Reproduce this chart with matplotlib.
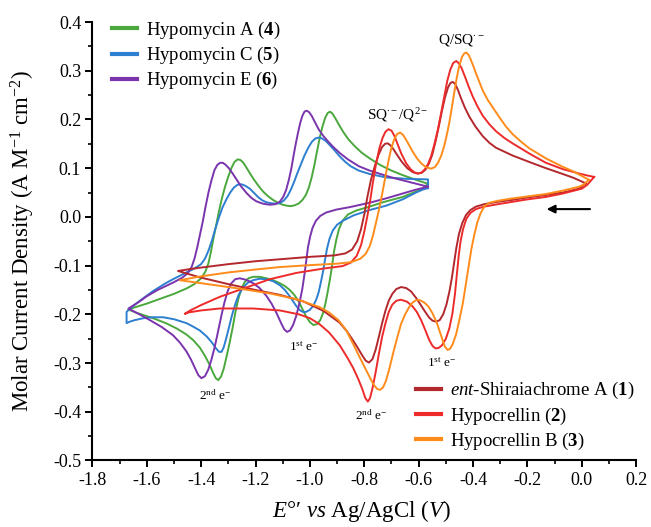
import matplotlib
matplotlib.use("Agg")
import matplotlib.pyplot as plt
from matplotlib.ticker import MultipleLocator, FormatStrFormatter
from matplotlib.lines import Line2D

plt.rcParams['font.family'] = ['Liberation Serif', 'DejaVu Serif']
plt.rcParams['mathtext.fontset'] = 'custom'
plt.rcParams['mathtext.rm'] = 'Liberation Serif'
plt.rcParams['mathtext.it'] = 'Liberation Serif:italic'
plt.rcParams['mathtext.bf'] = 'Liberation Serif:bold'
plt.rcParams['axes.unicode_minus'] = False

# ── CV loops: right vertex -> cathodic (lower) -> left vertex -> anodic (upper) ──
shir_x = [0.014, -0.01, -0.07, -0.132, -0.2, -0.255, -0.31, -0.36, -0.39, -0.41, -0.426, -0.440, -0.452,
          -0.462, -0.470, -0.478, -0.487, -0.498, -0.510, -0.523, -0.536, -0.549, -0.561, -0.576, -0.591,
          -0.610, -0.628, -0.646, -0.665, -0.682, -0.697, -0.710, -0.722, -0.734, -0.746, -0.758, -0.770,
          -0.783, -0.795, -0.808, -0.825, -0.842, -0.865, -0.891, -0.95, -1.026, -1.111, -1.2, -1.3, -1.405,
          -1.485,
          -1.44, -1.40, -1.30, -1.2, -1.111, -1.0, -0.91, -0.870, -0.845, -0.826, -0.812, -0.800, -0.789,
          -0.776, -0.762, -0.748, -0.735, -0.724, -0.714, -0.704, -0.693, -0.679, -0.662, -0.642, -0.622,
          -0.604, -0.588, -0.575, -0.562, -0.550, -0.538, -0.526, -0.514, -0.503, -0.492, -0.483, -0.475,
          -0.466, -0.456, -0.444, -0.430, -0.414, -0.392, -0.365, -0.340, -0.316, -0.255, -0.19, -0.132,
          -0.07, -0.030, 0.014]
shir_y = [0.069, 0.058, 0.050, 0.045, 0.040, 0.035, 0.031, 0.026, 0.021, 0.014, 0.004, -0.013, -0.035,
          -0.065, -0.095, -0.125, -0.153, -0.180, -0.200, -0.212, -0.215, -0.213, -0.207, -0.195, -0.182,
          -0.166, -0.153, -0.146, -0.144, -0.148, -0.158, -0.172, -0.192, -0.217, -0.245, -0.272, -0.292,
          -0.299, -0.295, -0.284, -0.268, -0.253, -0.234, -0.217, -0.193, -0.173, -0.160, -0.150, -0.138, -0.124,
          -0.111,
          -0.107, -0.104, -0.097, -0.091, -0.087, -0.082, -0.079, -0.075, -0.067, -0.050, -0.025, 0.005, 0.040,
          0.075, 0.103, 0.127, 0.143, 0.150, 0.151, 0.147, 0.139, 0.127, 0.113, 0.100, 0.092,
          0.089, 0.091, 0.097, 0.110, 0.128, 0.155, 0.186, 0.219, 0.246, 0.266, 0.275, 0.277,
          0.273, 0.261, 0.243, 0.224, 0.206, 0.186, 0.166, 0.152, 0.142, 0.126, 0.112, 0.100,
          0.088, 0.080, 0.069]

hypo_x = [0.045, 0.02, 0.0, -0.07, -0.132, -0.2, -0.255, -0.31, -0.36, -0.39, -0.41, -0.425, -0.437, -0.446,
          -0.453, -0.460, -0.467, -0.476, -0.487, -0.500, -0.515, -0.527, -0.538, -0.549, -0.561, -0.576,
          -0.591, -0.607, -0.622, -0.643, -0.665, -0.682, -0.697, -0.710, -0.722, -0.734, -0.746, -0.758,
          -0.770, -0.779, -0.787, -0.796, -0.807, -0.822, -0.840, -0.861, -0.891, -0.93, -0.965, -1.0, -1.04,
          -1.111, -1.209, -1.331, -1.40, -1.445, -1.460,
          -1.44, -1.40, -1.331, -1.27, -1.209, -1.148, -1.05, -0.95, -0.88, -0.85, -0.828, -0.812, -0.800,
          -0.789, -0.778, -0.768, -0.757, -0.745, -0.733, -0.722, -0.711, -0.700, -0.689, -0.678, -0.664,
          -0.646, -0.630, -0.615, -0.602, -0.589, -0.577, -0.566, -0.554, -0.542, -0.530, -0.518, -0.506,
          -0.495, -0.484, -0.473, -0.462, -0.452, -0.442, -0.430, -0.416, -0.402, -0.385, -0.365, -0.340,
          -0.316, -0.285, -0.255, -0.19, -0.132, -0.07, -0.010, 0.02, 0.045]
hypo_y = [0.082, 0.066, 0.058, 0.048, 0.041, 0.036, 0.031, 0.026, 0.021, 0.016, 0.008, -0.004, -0.025, -0.050,
          -0.080, -0.120, -0.160, -0.198, -0.228, -0.250, -0.264, -0.269, -0.270, -0.265, -0.253, -0.232,
          -0.212, -0.195, -0.184, -0.174, -0.170, -0.172, -0.180, -0.195, -0.218, -0.245, -0.280, -0.318,
          -0.352, -0.372, -0.379, -0.372, -0.354, -0.333, -0.311, -0.290, -0.263, -0.237, -0.220, -0.208, -0.200,
          -0.192, -0.188, -0.188, -0.192, -0.196, -0.199,
          -0.192, -0.181, -0.164, -0.152, -0.140, -0.128, -0.115, -0.106, -0.101, -0.094, -0.080, -0.058, -0.030,
          0.001, 0.035, 0.072, 0.108, 0.140, 0.162, 0.175, 0.180, 0.177, 0.166, 0.150, 0.130,
          0.110, 0.098, 0.091, 0.089, 0.091, 0.098, 0.108, 0.125, 0.150, 0.178, 0.212, 0.247,
          0.279, 0.302, 0.316, 0.320, 0.315, 0.305, 0.288, 0.267, 0.248, 0.228, 0.208, 0.190,
          0.176, 0.162, 0.151, 0.129, 0.111, 0.098, 0.089, 0.085, 0.082]

hypob_x = [0.026, 0.005, -0.010, -0.07, -0.132, -0.2, -0.255, -0.31, -0.340, -0.358, -0.372, -0.385, -0.396,
           -0.406, -0.416, -0.426, -0.438, -0.451, -0.463, -0.475, -0.485, -0.494, -0.504, -0.518, -0.533,
           -0.549, -0.564, -0.579, -0.595, -0.610, -0.623, -0.636, -0.650, -0.665, -0.680, -0.695, -0.708,
           -0.720, -0.731, -0.742, -0.753, -0.766, -0.781, -0.800, -0.818, -0.840, -0.866, -0.895, -0.93,
           -0.965, -1.05, -1.148, -1.25, -1.35, -1.478,
           -1.44, -1.40, -1.30, -1.2, -1.111, -1.0, -0.900, -0.850, -0.815, -0.795, -0.780, -0.768, -0.757,
           -0.746, -0.735, -0.724, -0.713, -0.702, -0.691, -0.680, -0.668, -0.657, -0.646, -0.634, -0.622,
           -0.606, -0.591, -0.573, -0.555, -0.541, -0.529, -0.517, -0.506, -0.496, -0.487, -0.478, -0.469,
           -0.460, -0.451, -0.441, -0.432, -0.424, -0.416, -0.408, -0.398, -0.389, -0.377, -0.365, -0.346,
           -0.328, -0.304, -0.280, -0.255, -0.225, -0.194, -0.132, -0.071, -0.030, 0.026]
hypob_y = [0.076, 0.066, 0.062, 0.054, 0.047, 0.042, 0.038, 0.033, 0.029, 0.022, 0.008, -0.012, -0.038,
           -0.065, -0.100, -0.136, -0.178, -0.213, -0.242, -0.261, -0.271, -0.273, -0.266, -0.243, -0.218,
           -0.198, -0.184, -0.176, -0.171, -0.171, -0.176, -0.186, -0.200, -0.220, -0.250, -0.282, -0.312,
           -0.336, -0.350, -0.355, -0.353, -0.344, -0.328, -0.307, -0.287, -0.262, -0.233, -0.212, -0.196,
           -0.185, -0.169, -0.157, -0.148, -0.140, -0.130,
           -0.126, -0.122, -0.114, -0.108, -0.103, -0.099, -0.096, -0.093, -0.086, -0.076, -0.060, -0.038, -0.012,
           0.015, 0.045, 0.078, 0.110, 0.138, 0.158, 0.170, 0.173, 0.168, 0.158, 0.146, 0.134,
           0.120, 0.110, 0.102, 0.099, 0.102, 0.111, 0.126, 0.146, 0.170, 0.195, 0.225, 0.256,
           0.286, 0.310, 0.328, 0.336, 0.337, 0.332, 0.322, 0.308, 0.294, 0.277, 0.260, 0.240,
           0.225, 0.205, 0.186, 0.170, 0.155, 0.141, 0.120, 0.103, 0.093, 0.076]

hma_x = [-0.566, -0.585, -0.61, -0.659, -0.732, -0.781, -0.83, -0.860, -0.880, -0.893, -0.903, -0.911,
         -0.918, -0.926, -0.934, -0.943, -0.952, -0.962, -0.974, -0.987, -1.000, -1.013, -1.026, -1.040,
         -1.056, -1.074, -1.092, -1.111, -1.135, -1.160, -1.185, -1.209, -1.226, -1.240, -1.252, -1.264,
         -1.274, -1.283, -1.295, -1.307, -1.317, -1.327, -1.337, -1.346, -1.356, -1.370, -1.386, -1.405,
         -1.429, -1.455, -1.490, -1.530, -1.576, -1.637, -1.668,
         -1.64, -1.60, -1.55, -1.50, -1.454, -1.425, -1.400, -1.384, -1.373, -1.364, -1.355, -1.345, -1.335,
         -1.324, -1.312, -1.300, -1.288, -1.277, -1.266, -1.256, -1.246, -1.233, -1.220, -1.205, -1.188,
         -1.172, -1.155, -1.136, -1.118, -1.100, -1.085, -1.070, -1.055, -1.040, -1.027, -1.015, -1.004,
         -0.994, -0.984, -0.974, -0.964, -0.954, -0.944, -0.935, -0.926, -0.917, -0.906, -0.893, -0.877,
         -0.858, -0.835, -0.81, -0.78, -0.74, -0.70, -0.66, -0.61, -0.566]
hma_y = [0.068, 0.058, 0.052, 0.041, 0.030, 0.021, 0.013, 0.005, -0.008, -0.025, -0.047, -0.070,
         -0.098, -0.127, -0.152, -0.178, -0.198, -0.212, -0.220, -0.222, -0.216, -0.205, -0.191, -0.175,
         -0.161, -0.150, -0.142, -0.136, -0.130, -0.126, -0.123, -0.123, -0.126, -0.134, -0.148, -0.170,
         -0.196, -0.224, -0.258, -0.288, -0.312, -0.328, -0.335, -0.331, -0.320, -0.302, -0.285, -0.268,
         -0.253, -0.241, -0.229, -0.218, -0.208, -0.197, -0.190,
         -0.185, -0.178, -0.168, -0.158, -0.147, -0.138, -0.126, -0.112, -0.095, -0.072, -0.045, -0.018, 0.010,
         0.037, 0.062, 0.083, 0.101, 0.113, 0.118, 0.117, 0.112, 0.101, 0.089, 0.076, 0.063,
         0.052, 0.043, 0.035, 0.029, 0.025, 0.023, 0.022, 0.024, 0.028, 0.035, 0.045, 0.060,
         0.080, 0.105, 0.134, 0.162, 0.185, 0.203, 0.213, 0.216, 0.212, 0.202, 0.189, 0.174,
         0.159, 0.145, 0.132, 0.120, 0.106, 0.095, 0.086, 0.076, 0.068]

hmc_x = [-0.566, -0.585, -0.610, -0.659, -0.72, -0.781, -0.840, -0.879, -0.900, -0.916, -0.928, -0.937,
         -0.945, -0.952, -0.960, -0.968, -0.977, -0.988, -1.001, -1.014, -1.026, -1.038, -1.050, -1.062,
         -1.074, -1.092, -1.111, -1.135, -1.160, -1.185, -1.209, -1.228, -1.246, -1.262, -1.275, -1.287,
         -1.298, -1.308, -1.317, -1.325, -1.334, -1.345, -1.360, -1.380, -1.405, -1.430, -1.454, -1.50,
         -1.539, -1.58, -1.613, -1.645, -1.662, -1.674, -1.674,
         -1.655, -1.62, -1.576, -1.53, -1.50, -1.454, -1.425, -1.40, -1.385, -1.372, -1.360, -1.348, -1.335,
         -1.321, -1.307, -1.293, -1.280, -1.266, -1.252, -1.238, -1.221, -1.205, -1.191, -1.175, -1.160,
         -1.142, -1.123, -1.108, -1.095, -1.082, -1.070, -1.058, -1.046, -1.033, -1.020, -1.006, -0.993,
         -0.980, -0.967, -0.955, -0.942, -0.928, -0.91, -0.89, -0.87, -0.85, -0.82, -0.78, -0.72, -0.64,
         -0.566, -0.566]
hmc_y = [0.059, 0.056, 0.050, 0.036, 0.023, 0.014, 0.003, -0.008, -0.016, -0.028, -0.045, -0.065,
         -0.090, -0.113, -0.135, -0.155, -0.170, -0.183, -0.191, -0.195, -0.195, -0.191, -0.183, -0.173,
         -0.163, -0.150, -0.140, -0.132, -0.128, -0.127, -0.130, -0.135, -0.145, -0.160, -0.180, -0.203,
         -0.228, -0.250, -0.268, -0.277, -0.277, -0.270, -0.258, -0.245, -0.233, -0.225, -0.218, -0.210,
         -0.206, -0.206, -0.208, -0.212, -0.215, -0.218, -0.195,
         -0.185, -0.170, -0.152, -0.136, -0.127, -0.114, -0.106, -0.097, -0.085, -0.068, -0.048, -0.025, -0.002,
         0.020, 0.036, 0.050, 0.060, 0.066, 0.067, 0.064, 0.058, 0.049, 0.041, 0.034, 0.030,
         0.028, 0.027, 0.029, 0.034, 0.043, 0.056, 0.072, 0.090, 0.108, 0.126, 0.142, 0.154,
         0.161, 0.163, 0.161, 0.156, 0.148, 0.137, 0.124, 0.113, 0.104, 0.095, 0.088, 0.081, 0.078,
         0.077, 0.059]

hme_x = [-0.566, -0.610, -0.659, -0.72, -0.781, -0.854, -0.903, -0.940, -0.962, -0.978, -0.990, -0.999,
         -1.007, -1.013, -1.020, -1.028, -1.038, -1.050, -1.062, -1.073, -1.084, -1.094, -1.105, -1.123,
         -1.141, -1.160, -1.185, -1.209, -1.235, -1.258, -1.275, -1.290, -1.302, -1.314, -1.326, -1.338,
         -1.350, -1.362, -1.374, -1.386, -1.399, -1.410, -1.422, -1.437, -1.454, -1.478, -1.503, -1.545,
         -1.588, -1.63, -1.667,
         -1.63, -1.60, -1.56, -1.53, -1.50, -1.47, -1.450, -1.435, -1.424, -1.414, -1.404, -1.394, -1.384,
         -1.373, -1.362, -1.351, -1.340, -1.330, -1.320, -1.310, -1.298, -1.284, -1.270, -1.252, -1.233,
         -1.215, -1.197, -1.172, -1.148, -1.128, -1.111, -1.098, -1.087, -1.077, -1.068, -1.060, -1.052,
         -1.044, -1.036, -1.028, -1.020, -1.012, -1.003, -0.993, -0.982, -0.968, -0.952, -0.935, -0.915,
         -0.89, -0.86, -0.82, -0.78, -0.74, -0.70, -0.63, -0.566]
hme_y = [0.062, 0.056, 0.048, 0.038, 0.029, 0.020, 0.015, 0.009, 0.002, -0.008, -0.022, -0.040,
         -0.062, -0.088, -0.118, -0.148, -0.176, -0.203, -0.222, -0.233, -0.236, -0.231, -0.219, -0.197,
         -0.178, -0.162, -0.146, -0.136, -0.129, -0.126, -0.128, -0.137, -0.152, -0.175, -0.204, -0.236,
         -0.267, -0.293, -0.314, -0.327, -0.331, -0.325, -0.311, -0.293, -0.276, -0.258, -0.243, -0.226,
         -0.212, -0.199, -0.188,
         -0.175, -0.163, -0.150, -0.142, -0.134, -0.125, -0.116, -0.103, -0.085, -0.062, -0.036, -0.010, 0.020,
         0.050, 0.075, 0.096, 0.107, 0.111, 0.111, 0.107, 0.100, 0.089, 0.077, 0.062, 0.049,
         0.039, 0.032, 0.027, 0.025, 0.026, 0.031, 0.041, 0.056, 0.077, 0.100, 0.126, 0.150,
         0.172, 0.192, 0.207, 0.216, 0.218, 0.215, 0.207, 0.195, 0.180, 0.167, 0.156, 0.144,
         0.131, 0.118, 0.104, 0.095, 0.088, 0.081, 0.071, 0.062]

C_SHIR = "#b3282d"; C_HYPO = "#ee2b2b"; C_HYPOB = "#ff8c1a"
C_HMA = "#4aa83c"; C_HMC = "#2d7fd0"; C_HME = "#7a34ad"

fig = plt.figure(figsize=(6.51, 5.27), dpi=100)
ax = fig.add_axes([0.1418, 0.1262, 0.8356, 0.832])

LW = 1.4
for xs, ys, c in [(hma_x, hma_y, C_HMA), (hmc_x, hmc_y, C_HMC), (hme_x, hme_y, C_HME),
                  (shir_x, shir_y, C_SHIR), (hypo_x, hypo_y, C_HYPO), (hypob_x, hypob_y, C_HYPOB)]:
    ax.plot(xs, ys, color=c, lw=LW, solid_joinstyle="round")

ax.set_xlim(-1.8, 0.2)
ax.set_ylim(-0.5, 0.4)
for s in ("top", "right"):
    ax.spines[s].set_visible(False)
for s in ("left", "bottom"):
    ax.spines[s].set_linewidth(1.5)
ax.xaxis.set_major_locator(MultipleLocator(0.2)); ax.xaxis.set_minor_locator(MultipleLocator(0.1))
ax.yaxis.set_major_locator(MultipleLocator(0.1)); ax.yaxis.set_minor_locator(MultipleLocator(0.05))
ax.xaxis.set_major_formatter(FormatStrFormatter("%.1f"))
ax.yaxis.set_major_formatter(FormatStrFormatter("%.1f"))
ax.tick_params(which="major", direction="out", length=5, width=1.4, labelsize=13, pad=3)
ax.tick_params(which="minor", direction="out", length=3, width=1.2)

ax.set_ylabel(r"Molar Current Density (A M$^{-1}$ cm$^{-2}$)", fontsize=16.5)
ax.set_xlabel(r"$E$°′ $vs$ Ag/AgCl ($V$)", fontsize=16.5)
ax.yaxis.set_label_coords(-0.102, 0.5)
ax.xaxis.set_label_coords(0.495, -0.085)

# peak annotations
ax.text(-0.443, 0.363, r"Q/SQ$^{\bullet-}$", fontsize=11, ha="center", va="center")
ax.text(-0.678, 0.209, r"SQ$^{\bullet-}$/Q$^{2-}$", fontsize=11, ha="center", va="center")
ax.text(-1.023, -0.267, r"1$^{\mathrm{st}}$ e$^{-}$", fontsize=9.5, ha="center", va="center")
ax.text(-0.517, -0.300, r"1$^{\mathrm{st}}$ e$^{-}$", fontsize=9.5, ha="center", va="center")
ax.text(-1.349, -0.368, r"2$^{\mathrm{nd}}$ e$^{-}$", fontsize=9.5, ha="center", va="center")
ax.text(-0.774, -0.409, r"2$^{\mathrm{nd}}$ e$^{-}$", fontsize=9.5, ha="center", va="center")

# scan direction arrow
ax.annotate("", xy=(-0.14, 0.016), xytext=(0.04, 0.016),
            arrowprops=dict(arrowstyle="-|>", color="black", lw=1.5, mutation_scale=12))

def handles(cols):
    return [Line2D([], [], color=c, lw=3) for c in cols]

leg1 = ax.legend(handles([C_HMA, C_HMC, C_HME]),
                 [r"Hypomycin A ($\mathbf{4}$)", r"Hypomycin C ($\mathbf{5}$)", r"Hypomycin E ($\mathbf{6}$)"],
                 loc="upper left", bbox_to_anchor=(0.036, 1.005), frameon=False, fontsize=13.5,
                 handlelength=1.35, handletextpad=0.45, labelspacing=0.22, borderpad=0, borderaxespad=0)
ax.add_artist(leg1)
ax.legend(handles([C_SHIR, C_HYPO, C_HYPOB]),
          [r"$\mathit{ent}$-Shiraiachrome A ($\mathbf{1}$)", r"Hypocrellin ($\mathbf{2}$)",
           r"Hypocrellin B ($\mathbf{3}$)"],
          loc="upper left", bbox_to_anchor=(0.595, 0.183), frameon=False, fontsize=13.5,
          handlelength=1.35, handletextpad=0.45, labelspacing=0.22, borderpad=0, borderaxespad=0)

fig.savefig("out.png", dpi=100)
